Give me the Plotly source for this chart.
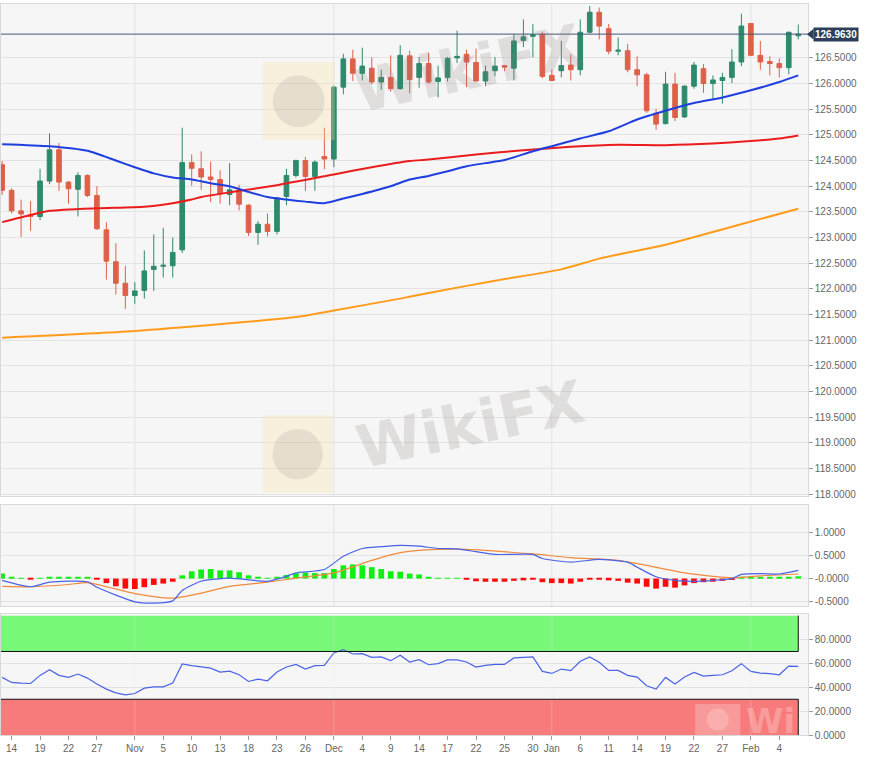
import plotly.graph_objects as go

# ---------------- data ----------------
dates = [
    "2020-10-13", "2020-10-14", "2020-10-15", "2020-10-16", "2020-10-19", "2020-10-20", "2020-10-21",
    "2020-10-22", "2020-10-23", "2020-10-26", "2020-10-27", "2020-10-28", "2020-10-29", "2020-10-30",
    "2020-11-02", "2020-11-03", "2020-11-04", "2020-11-05", "2020-11-06", "2020-11-09", "2020-11-10",
    "2020-11-11", "2020-11-12", "2020-11-13", "2020-11-16", "2020-11-17", "2020-11-18", "2020-11-19",
    "2020-11-20", "2020-11-23", "2020-11-24", "2020-11-25", "2020-11-26", "2020-11-27", "2020-11-30",
    "2020-12-01", "2020-12-02", "2020-12-03", "2020-12-04", "2020-12-07", "2020-12-08", "2020-12-09",
    "2020-12-10", "2020-12-11", "2020-12-14", "2020-12-15", "2020-12-16", "2020-12-17", "2020-12-18",
    "2020-12-21", "2020-12-22", "2020-12-23", "2020-12-24", "2020-12-25", "2020-12-28", "2020-12-29",
    "2020-12-30", "2020-12-31", "2021-01-01", "2021-01-04", "2021-01-05", "2021-01-06", "2021-01-07",
    "2021-01-08", "2021-01-11", "2021-01-12", "2021-01-13", "2021-01-14", "2021-01-15", "2021-01-18",
    "2021-01-19", "2021-01-20", "2021-01-21", "2021-01-22", "2021-01-25", "2021-01-26", "2021-01-27",
    "2021-01-28", "2021-01-29", "2021-02-01", "2021-02-02", "2021-02-03", "2021-02-04", "2021-02-05",
    "2021-02-08",
]
opens = [
    124.42, 123.92, 123.52, 123.44, 123.41, 124.10, 124.71, 124.08, 123.94, 124.21, 123.82, 123.15,
    122.53, 122.11, 121.87, 121.97, 122.38, 122.44, 122.45, 122.76, 124.46, 124.34, 124.18, 124.13,
    123.84, 123.93, 123.63, 123.10, 123.26, 123.12, 123.80, 124.21, 124.50, 124.19, 124.58, 124.53,
    125.93, 126.48, 126.20, 126.30, 126.03, 126.12, 125.90, 126.54, 126.12, 126.39, 126.04, 126.12,
    126.50, 126.57, 126.41, 126.05, 126.25, 126.35, 126.30, 126.84, 126.92, 126.96, 126.16, 126.25,
    126.36, 126.27, 127.00, 127.39, 127.07, 126.63, 126.64, 126.27, 126.17, 125.42, 125.22, 125.99,
    125.35, 125.95, 126.29, 126.00, 126.06, 126.12, 126.42, 127.17, 126.55, 126.43, 126.39, 126.31,
    126.93,
]
highs = [
    124.49, 123.96, 123.74, 123.71, 124.34, 125.03, 124.84, 124.10, 124.27, 124.23, 124.00, 123.30,
    122.89, 122.45, 122.13, 122.75, 123.06, 123.19, 123.00, 125.14, 124.62, 124.68, 124.48, 124.31,
    124.45, 124.03, 123.65, 123.32, 123.47, 123.79, 124.34, 124.52, 124.57, 124.50, 125.14, 125.96,
    126.58, 126.66, 126.70, 126.51, 126.27, 126.55, 126.75, 126.64, 126.52, 126.60, 126.35, 126.52,
    127.03, 126.66, 126.68, 126.35, 126.52, 126.36, 126.97, 127.25, 127.16, 127.01, 126.27, 126.83,
    126.57, 127.25, 127.51, 127.48, 127.16, 126.90, 126.77, 126.53, 126.21, 125.51, 126.23, 126.21,
    125.97, 126.42, 126.38, 126.16, 126.21, 126.67, 127.36, 127.18, 126.83, 126.53, 126.49, 127.01,
    127.15,
]
lows = [
    123.83, 123.47, 123.01, 123.13, 123.34, 124.04, 123.91, 123.66, 123.41, 123.79, 123.15, 122.18,
    121.89, 121.61, 121.71, 121.81, 121.96, 122.22, 122.22, 122.70, 124.01, 123.93, 123.69, 123.66,
    123.63, 123.53, 123.03, 122.86, 123.02, 123.06, 123.63, 124.17, 123.91, 123.91, 124.33, 124.37,
    125.79, 126.05, 126.06, 125.98, 125.88, 125.84, 125.88, 125.81, 125.92, 126.00, 125.73, 126.04,
    126.40, 125.93, 126.04, 125.95, 126.14, 126.24, 126.06, 126.71, 126.51, 126.10, 126.05, 126.12,
    126.06, 126.16, 126.98, 126.86, 126.57, 126.55, 126.22, 125.95, 125.43, 125.10, 125.20, 125.27,
    125.33, 125.90, 125.82, 125.69, 125.61, 126.01, 126.34, 126.54, 126.27, 126.16, 126.12, 126.18,
    126.86,
]
closes = [
    123.92, 123.52, 123.46, 123.41, 124.10, 124.71, 124.08, 123.95, 124.21, 123.82, 123.17, 122.54,
    122.11, 121.87, 121.96, 122.35, 122.44, 122.46, 122.71, 124.46, 124.35, 124.18, 124.13, 123.85,
    123.93, 123.65, 123.10, 123.26, 123.12, 123.77, 124.21, 124.50, 124.19, 124.47, 124.53, 125.93,
    126.48, 126.20, 126.34, 126.03, 126.12, 125.90, 126.55, 126.08, 126.39, 126.03, 126.11, 126.49,
    126.53, 126.42, 126.05, 126.23, 126.34, 126.32, 126.83, 126.91, 126.95, 126.14, 126.06, 126.35,
    126.27, 127.00, 127.39, 127.12, 126.63, 126.65, 126.27, 126.17, 125.47, 125.21, 125.99, 125.34,
    125.95, 126.36, 126.00, 126.07, 126.12, 126.42, 127.12, 126.55, 126.42, 126.39, 126.31, 127.00,
    126.963,
]

# moving averages (read at selected sessions)
sma_fast_dates = ["2020-10-13", "2020-10-20", "2020-10-26", "2020-10-29", "2020-11-02", "2020-11-04",
                  "2020-11-06", "2020-11-10", "2020-11-12", "2020-11-16", "2020-11-18", "2020-11-20",
                  "2020-11-24", "2020-11-26", "2020-11-30", "2020-12-02", "2020-12-04", "2020-12-09",
                  "2020-12-11", "2020-12-15", "2020-12-17", "2020-12-21", "2020-12-23", "2020-12-25",
                  "2020-12-30", "2021-01-01", "2021-01-06", "2021-01-11", "2021-01-14", "2021-01-19",
                  "2021-01-22", "2021-01-27", "2021-02-01", "2021-02-04", "2021-02-08"]
sma_fast = [124.82, 124.78, 124.69, 124.50, 124.37, 124.25, 124.17, 124.13, 124.06, 124.00, 123.89,
            123.79, 123.74, 123.70, 123.67, 123.76, 123.85, 124.00, 124.13, 124.20, 124.29, 124.39,
            124.45, 124.51, 124.68, 124.78, 124.93, 125.07, 125.30, 125.47, 125.62, 125.73, 125.87,
            126.03, 126.16]

sma_mid_dates = ["2020-10-13", "2020-10-16", "2020-10-20", "2020-10-27", "2020-11-03", "2020-11-06",
                 "2020-11-10", "2020-11-11", "2020-11-16", "2020-11-23", "2020-12-01", "2020-12-07",
                 "2020-12-11", "2020-12-15", "2020-12-22", "2020-12-29", "2021-01-05", "2021-01-12",
                 "2021-01-19", "2021-01-26", "2021-02-01", "2021-02-04", "2021-02-08"]
sma_mid = [123.30, 123.44, 123.52, 123.57, 123.60, 123.67, 123.74, 123.79, 123.88, 124.02, 124.23,
           124.37, 124.49, 124.52, 124.62, 124.70, 124.77, 124.81, 124.80, 124.83, 124.88, 124.93,
           124.99]

sma_slow_dates = ["2020-10-13", "2020-11-02", "2020-11-25", "2020-12-01", "2020-12-10", "2020-12-15",
                  "2020-12-24", "2021-01-04", "2021-01-08", "2021-01-19", "2021-01-28", "2021-02-08"]
sma_slow = [121.05, 121.18, 121.45, 121.58, 121.81, 121.92, 122.16, 122.38, 122.59, 122.86, 123.21,
            123.56]

# MACD
macd_hist = [
    0.11, 0.04, 0.015, -0.02, 0.015, 0.04, 0.04, 0.04, 0.03, 0.02, -0.02, -0.10, -0.17, -0.22, -0.23,
    -0.19, -0.14, -0.11, -0.07, 0.07, 0.16, 0.20, 0.21, 0.18, 0.18, 0.14, 0.07, 0.04, 0.015, 0.03,
    0.08, 0.12, 0.13, 0.12, 0.12, 0.21, 0.29, 0.31, 0.29, 0.25, 0.21, 0.16, 0.15, 0.11, 0.09, 0.04,
    0.015, 0.015, 0.015, -0.015, -0.06, -0.07, -0.07, -0.07, -0.05, -0.04, -0.02, -0.08, -0.10,
    -0.10, -0.11, -0.07, -0.02, -0.015, -0.04, -0.05, -0.09, -0.11, -0.18, -0.22, -0.18, -0.20,
    -0.15, -0.10, -0.08, -0.07, -0.05, -0.03, 0.03, 0.04, 0.04, 0.04, 0.04, 0.04, 0.05,
]
macd_dates = ["2020-10-13", "2020-10-16", "2020-10-20", "2020-10-26", "2020-10-27", "2020-11-02",
              "2020-11-04", "2020-11-06", "2020-11-09", "2020-11-11", "2020-11-16", "2020-11-20",
              "2020-11-24", "2020-11-25", "2020-11-30", "2020-12-02", "2020-12-04", "2020-12-08",
              "2020-12-10", "2020-12-14", "2020-12-16", "2020-12-18", "2020-12-22", "2020-12-24",
              "2020-12-30", "2020-12-31", "2021-01-05", "2021-01-08", "2021-01-13", "2021-01-14",
              "2021-01-18", "2021-01-20", "2021-01-22", "2021-01-26", "2021-01-28", "2021-01-29",
              "2021-02-02", "2021-02-04", "2021-02-08"]
macd_line = [-0.04, -0.18, -0.08, -0.07, -0.19, -0.51, -0.54, -0.49, -0.26, -0.06, 0.01, -0.06,
             0.05, 0.125, 0.20, 0.49, 0.66, 0.70, 0.73, 0.71, 0.66, 0.65, 0.59, 0.53, 0.53, 0.44,
             0.36, 0.42, 0.36, 0.25, 0.04, -0.04, -0.06, -0.04, 0.0, 0.09, 0.11, 0.10, 0.18]
signal_dates = ["2020-10-13", "2020-10-16", "2020-10-22", "2020-10-26", "2020-11-02", "2020-11-06",
                "2020-11-11", "2020-11-16", "2020-11-20", "2020-11-25", "2020-12-01", "2020-12-07",
                "2020-12-10", "2020-12-16", "2020-12-21", "2020-12-30", "2021-01-05", "2021-01-12",
                "2021-01-15", "2021-01-21", "2021-01-26", "2021-01-28", "2021-02-02", "2021-02-08"]
signal_line = [-0.17, -0.18, -0.13, -0.09, -0.33, -0.43, -0.32, -0.17, -0.08, 0.01, 0.125, 0.40,
               0.57, 0.64, 0.64, 0.54, 0.46, 0.40, 0.29, 0.125, 0.05, 0.015, 0.06, 0.10]

# RSI
rsi = [
    48.3, 44.1, 43.5, 43.2, 50.0, 54.7, 50.0, 48.3, 51.1, 47.7, 42.7, 38.5, 35.4, 33.7, 34.8, 39.3,
    40.4, 40.4, 43.5, 59.5, 58.1, 57.0, 56.1, 52.8, 53.6, 50.5, 44.9, 46.9, 45.5, 52.8, 57.0, 59.2,
    55.3, 58.1, 58.4, 68.8, 71.6, 67.9, 68.2, 65.1, 65.4, 62.3, 66.8, 61.2, 63.2, 58.9, 59.8, 63.0,
    62.9, 61.2, 57.0, 58.4, 59.2, 59.2, 64.6, 65.1, 65.4, 53.3, 51.6, 55.3, 53.9, 61.8, 65.4, 60.9,
    54.2, 54.2, 50.0, 48.6, 41.3, 38.5, 48.3, 42.7, 48.6, 52.5, 49.4, 50.0, 50.5, 53.9, 59.8, 53.3,
    51.9, 51.4, 50.5, 57.8, 57.5,
]

tick_dates = ["2020-10-14", "2020-10-19", "2020-10-22", "2020-10-27", "2020-11-02", "2020-11-05",
              "2020-11-10", "2020-11-13", "2020-11-18", "2020-11-23", "2020-11-26", "2020-12-01",
              "2020-12-04", "2020-12-09", "2020-12-14", "2020-12-17", "2020-12-22", "2020-12-25",
              "2020-12-30", "2021-01-01", "2021-01-06", "2021-01-11", "2021-01-14", "2021-01-19",
              "2021-01-22", "2021-01-27", "2021-02-01", "2021-02-04"]
tick_labels = ["14", "19", "22", "27", "Nov", "5", "10", "13", "18", "23", "26", "Dec", "4", "9", "14",
               "17", "22", "25", "30", "Jan", "6", "11", "14", "19", "22", "27", "Feb", "4"]
month_starts = ["2020-11-02", "2020-12-01", "2021-01-01", "2021-02-01"]

price_ticks = [118.0, 118.5, 119.0, 119.5, 120.0, 120.5, 121.0, 121.5, 122.0, 122.5, 123.0, 123.5,
               124.0, 124.5, 125.0, 125.5, 126.0, 126.5]
macd_ticks = [-0.5, 0.0, 0.5, 1.0]
macd_tick_text = ["-0.5000", "-0.0000", "0.5000", "1.0000"]
rsi_ticks = [0, 20, 40, 60, 80]

# ---------------- figure ----------------
W, H = 882, 766
HS = H * 0.992          # vertical pixel scale observed in the final snapshot
XR = 0.9158
FONT = "Liberation Sans, Arial, sans-serif"
GRID = "#e3e3e3"
BORDER = "#d9d9d9"


def py(p):
    """paper y for a pixel row measured from the top"""
    return 1 - p / HS


fig = go.Figure()

fig.add_trace(go.Candlestick(
    x=dates, open=opens, high=highs, low=lows, close=closes,
    increasing=dict(line=dict(color="#2e8a6d", width=1), fillcolor="#2e8a6d"),
    decreasing=dict(line=dict(color="#df604a", width=1), fillcolor="#df604a"),
    whiskerwidth=0, xaxis="x", yaxis="y", showlegend=False, hoverinfo="skip"))

fig.add_trace(go.Scatter(x=sma_slow_dates, y=sma_slow, mode="lines",
                         line=dict(color="#ff9c1c", width=2, shape="spline", smoothing=0.6),
                         xaxis="x", yaxis="y", showlegend=False))
fig.add_trace(go.Scatter(x=sma_mid_dates, y=sma_mid, mode="lines",
                         line=dict(color="#ea1c1c", width=2, shape="spline", smoothing=0.6),
                         xaxis="x", yaxis="y", showlegend=False))
fig.add_trace(go.Scatter(x=sma_fast_dates, y=sma_fast, mode="lines",
                         line=dict(color="#1f3ee0", width=2, shape="spline", smoothing=0.6),
                         xaxis="x", yaxis="y", showlegend=False))

fig.add_trace(go.Bar(x=dates, y=macd_hist, width=0.6,
                     marker=dict(color=["#11ee11" if v >= 0 else "#ff0a0a" for v in macd_hist],
                                 line=dict(width=0)),
                     xaxis="x2", yaxis="y2", showlegend=False))
fig.add_trace(go.Scatter(x=signal_dates, y=signal_line, mode="lines",
                         line=dict(color="#f08a3c", width=1.2, shape="spline", smoothing=0.6),
                         xaxis="x2", yaxis="y2", showlegend=False))
fig.add_trace(go.Scatter(x=macd_dates, y=macd_line, mode="lines",
                         line=dict(color="#4a63e6", width=1.2, shape="spline", smoothing=0.6),
                         xaxis="x2", yaxis="y2", showlegend=False))

fig.add_trace(go.Scatter(x=dates, y=rsi, mode="lines",
                         line=dict(color="#4a63e6", width=1.2),
                         xaxis="x3", yaxis="y3", showlegend=False))

n = len(dates)
xcommon = dict(type="category", categoryorder="array", categoryarray=dates,
               range=[-0.12, n + 0.01], domain=[0, XR], showgrid=False, zeroline=False,
               showline=True, mirror=True, linecolor=BORDER, linewidth=1, fixedrange=True)

ycommon = dict(side="right", showgrid=True, gridcolor=GRID, gridwidth=1, zeroline=False,
               showline=True, mirror=True, linecolor=BORDER, linewidth=1,
               ticks="outside", ticklen=4, tickcolor="#9a9a9a",
               tickfont=dict(family=FONT, size=10, color="#666666"))

fig.update_layout(
    width=W, height=H, margin=dict(l=0, r=0, t=0, b=0),
    paper_bgcolor="white", plot_bgcolor="#f6f6f6",
    bargap=0.3, showlegend=False,
    xaxis=dict(xcommon, anchor="y", showticklabels=False, rangeslider=dict(visible=False)),
    xaxis2=dict(xcommon, anchor="y2", showticklabels=False, matches="x"),
    xaxis3=dict(xcommon, anchor="y3", matches="x", tickmode="array", tickvals=tick_dates,
                ticktext=tick_labels, ticks="outside", ticklen=4, tickcolor="#9a9a9a",
                tickfont=dict(family=FONT, size=10, color="#666666"), tickangle=0),
    yaxis=dict(ycommon, anchor="x", domain=[py(495), py(4)], range=[117.97, 127.55],
               tickmode="array", tickvals=price_ticks, ticktext=[f"{v:.4f}" for v in price_ticks]),
    yaxis2=dict(ycommon, anchor="x2", domain=[py(605), py(504)], range=[-0.60, 1.62],
                tickmode="array", tickvals=macd_ticks, ticktext=macd_tick_text),
    yaxis3=dict(ycommon, anchor="x3", domain=[py(734), py(613.3)], range=[0, 101.2],
                tickmode="array", tickvals=rsi_ticks, ticktext=[f"{v:.4f}" for v in rsi_ticks]),
)

shapes = []
# monthly vertical grid lines
for xa, ya, lay, col in (("x", "y", "below", GRID), ("x2", "y2", "below", GRID),
                         ("x3", "y3", "above", "rgba(235,235,235,0.28)")):
    for d in month_starts:
        i = dates.index(d)
        shapes.append(dict(type="line", xref=xa, yref=f"{ya} domain", x0=i, x1=i, y0=0, y1=1,
                           line=dict(color=col, width=1), layer=lay))
# RSI zones
last = n - 1
shapes.append(dict(type="rect", xref="x3", yref="y3", x0=-1, x1=last, y0=70, y1=100,
                   fillcolor="#7af87a", line=dict(width=0), layer="between"))
shapes.append(dict(type="rect", xref="x3", yref="y3", x0=-1, x1=last, y0=0, y1=30,
                   fillcolor="#f87b7b", line=dict(width=0), layer="between"))
shapes.append(dict(type="path", xref="x3", yref="y3",
                   path=f"M -1,70 L {last},70 L {last},100", line=dict(color="#111111", width=1)))
shapes.append(dict(type="path", xref="x3", yref="y3",
                   path=f"M -1,30 L {last},30 L {last},0", line=dict(color="#111111", width=1)))
# current price line and marker
cur = closes[-1]
shapes.append(dict(type="line", xref="paper", yref="y", x0=0, x1=XR, y0=cur, y1=cur,
                   line=dict(color="#44577a", width=1)))
shapes.append(dict(type="path", xref="paper", yref="y",
                   path=f"M {XR - 0.001},{cur} L {XR + 0.0065},{cur + 0.105} L {XR + 0.0065},{cur - 0.105} Z",
                   fillcolor="#2d3e58", line=dict(width=0)))
# watermark logo plates
for (x0, y0, x1, y1, col, eag) in ((262, 62, 334, 140, "rgba(250,226,160,0.30)", "rgba(160,150,150,0.20)"),
                                    (262, 415, 332, 492, "rgba(250,226,160,0.30)", "rgba(160,150,150,0.20)"),
                                    (695, 703, 740, 734, "rgba(255,255,255,0.24)", "rgba(255,255,255,0.20)")):
    shapes.append(dict(type="rect", xref="paper", yref="paper",
                       x0=x0 / W, x1=x1 / W, y0=py(y1), y1=py(y0),
                       fillcolor=col, line=dict(width=0), layer="above"))
    cx, cy, r = (x0 + x1) / 2, (y0 + y1) / 2, min(x1 - x0, y1 - y0) * 0.36
    shapes.append(dict(type="circle", xref="paper", yref="paper",
                       x0=(cx - r) / W, x1=(cx + r) / W, y0=py(cy + r), y1=py(cy - r),
                       fillcolor=eag, line=dict(width=0), layer="above"))
fig.update_layout(shapes=shapes)

annotations = [
    dict(xref="paper", yref="y", x=XR + 0.0062, y=cur, xanchor="left", yanchor="middle",
         text=f"<b>{cur:.4f}</b>", showarrow=False, bgcolor="#2d3e58", borderpad=1,
         font=dict(family=FONT, size=10, color="white")),
]
for (cx, cy) in ((468, 68), (470, 424)):
    annotations.append(dict(xref="paper", yref="paper", x=cx / W, y=py(cy), text="<b>WikiFX</b>",
                            xanchor="center", yanchor="middle", showarrow=False, textangle=-12,
                            font=dict(family="DejaVu Sans", size=59, color="rgba(140,125,125,0.20)")))
annotations.append(dict(xref="paper", yref="paper", x=770 / W, y=py(720), text="<b>Wi</b>",
                        xanchor="center", yanchor="middle", showarrow=False,
                        font=dict(family="DejaVu Sans", size=34, color="rgba(255,255,255,0.26)")))
fig.update_layout(annotations=annotations)

fig.write_html(
    "out.html",
    config={"displayModeBar": False},
    post_script=("document.documentElement.style.margin='0';document.body.style.margin='0';"
                 "document.documentElement.style.overflow='hidden';document.body.style.overflow='hidden';"),
)
